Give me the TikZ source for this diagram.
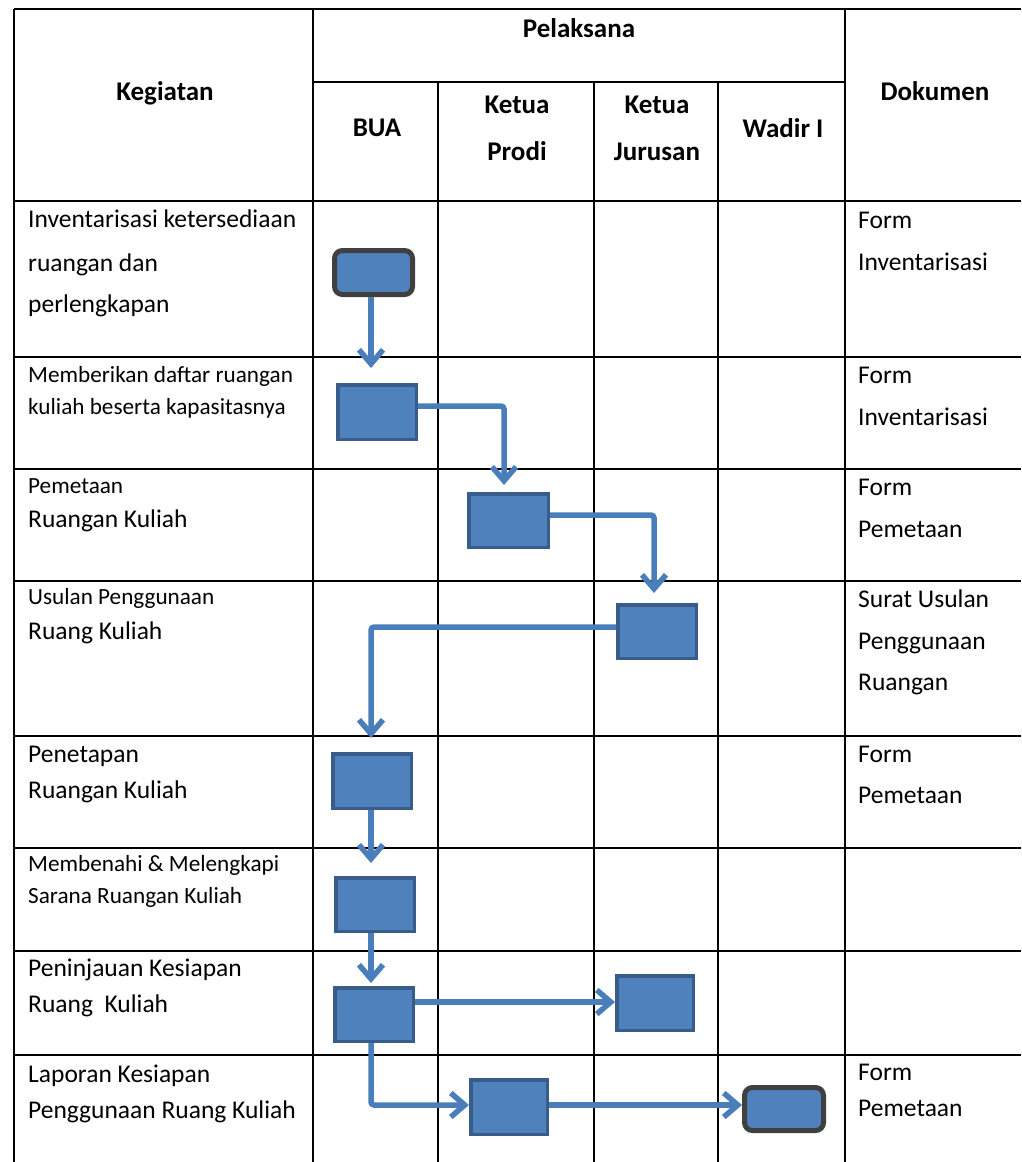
\documentclass[tikz,border=0pt]{standalone}
\usepackage{fontspec}
\setmainfont{Carlito}
\usetikzlibrary{arrows.meta,shadows}
\definecolor{boxfill}{HTML}{4F81BD}
\definecolor{boxedge}{HTML}{385D8A}
\definecolor{termedge}{HTML}{404040}
\definecolor{arrowc}{HTML}{4A7EBB}
\tikzset{
  flowbox/.style={draw=boxedge, fill=boxfill, line width=3.5pt, inner sep=0pt,
    drop shadow={opacity=0.25, shadow xshift=2pt, shadow yshift=-2pt}},
  termbox/.style={draw=termedge, fill=boxfill, line width=5pt, inner sep=0pt, rounded corners=8pt,
    drop shadow={opacity=0.25, shadow xshift=2pt, shadow yshift=-2pt}},
  flowarrow/.style={draw=arrowc, line width=5.5pt, rounded corners=3pt,
    -{Straight Barb[length=14pt,width=24pt]}},
  gridline/.style={line width=2.2pt, black},
  big/.style={font=\fontsize{25.5}{30}\selectfont, anchor=base west, inner sep=0pt},
  small/.style={font=\fontsize{23.2}{27}\selectfont, anchor=base west, inner sep=0pt},
  head/.style={font=\bfseries\fontsize{27}{32}\selectfont, anchor=base, inner sep=0pt}
}
\begin{document}
\begin{tikzpicture}[x=1pt,y=-1pt]
\useasboundingbox[fill=white] (0,0) rectangle (1021,1162);
% grid
\draw[gridline] (14,9) -- (1021,9);
\draw[gridline] (313,82) -- (845,82);
\foreach \yy in {201,357,469,581,736,848,951,1055}{\draw[gridline] (14,\yy) -- (1021,\yy);}
\foreach \xx in {14,313,845}{\draw[gridline] (\xx,9) -- (\xx,1162);}
\foreach \xx in {438,594,718}{\draw[gridline] (\xx,82) -- (\xx,1162);}
% header
\node[head] (hkeg) at (165,100) {Kegiatan};
\node[head] (hpel) at (579,37) {Pelaksana};
\node[head] (hdok) at (935,100) {Dokumen};
\node[head] (hbua) at (377,136) {BUA};
\node[head] (hkp1) at (517,113) {Ketua};
\node[head] (hkp2) at (517,160) {Prodi};
\node[head] (hkj1) at (657,113) {Ketua};
\node[head] (hkj2) at (657,160) {Jurusan};
\node[head] (hwad) at (783,137) {Wadir I};
% kegiatan
\node[big] (k1a) at (28,227) {Inventarisasi ketersediaan};
\node[big] (k1b) at (28,271) {ruangan dan};
\node[big] (k1c) at (28,312) {perlengkapan};
\node[small] (k2a) at (28,382) {Memberikan daftar ruangan};
\node[small] (k2b) at (28,414) {kuliah beserta kapasitasnya};
\node[small] (k3a) at (28,493) {Pemetaan};
\node[big] (k3b) at (28,527) {Ruangan Kuliah};
\node[small] (k4a) at (28,604) {Usulan Penggunaan};
\node[big] (k4b) at (28,639) {Ruang Kuliah};
\node[big] (k5a) at (28,762) {Penetapan};
\node[big] (k5b) at (28,798) {Ruangan Kuliah};
\node[small] (k6a) at (28,871) {Membenahi \& Melengkapi};
\node[small] (k6b) at (28,903) {Sarana Ruangan Kuliah};
\node[big] (k7a) at (28,976) {Peninjauan Kesiapan};
\node[big] (k7b) at (28,1012) {Ruang\ \ Kuliah};
\node[big] (k8a) at (28,1082) {Laporan Kesiapan};
\node[big] (k8b) at (28,1118) {Penggunaan Ruang Kuliah};
% dokumen
\node[big] (d1a) at (858,228) {Form};
\node[big] (d1b) at (858,270) {Inventarisasi};
\node[big] (d2a) at (858,383) {Form};
\node[big] (d2b) at (858,425) {Inventarisasi};
\node[big] (d3a) at (858,495) {Form};
\node[big] (d3b) at (858,537) {Pemetaan};
\node[big] (d4a) at (858,607) {Surat Usulan};
\node[big] (d4b) at (858,649) {Penggunaan};
\node[big] (d4c) at (858,690) {Ruangan};
\node[big] (d5a) at (858,762) {Form};
\node[big] (d5b) at (858,803) {Pemetaan};
\node[big] (d8a) at (858,1080) {Form};
\node[big] (d8b) at (858,1116) {Pemetaan};
% boxes
\node[termbox, minimum width=78pt, minimum height=44pt] (b1) at (373.5,272.5) {};
\node[flowbox, minimum width=78.5pt, minimum height=54.5pt] (b2) at (377,412) {};
\node[flowbox, minimum width=79.5pt, minimum height=53.5pt] (b3) at (508.5,520.5) {};
\node[flowbox, minimum width=78.5pt, minimum height=53.5pt] (b4) at (657,631.5) {};
\node[flowbox, minimum width=78.5pt, minimum height=54.5pt] (b5) at (372,781) {};
\node[flowbox, minimum width=78.5pt, minimum height=53.5pt] (b6) at (375,904.5) {};
\node[flowbox, minimum width=78.5pt, minimum height=53.5pt] (b7) at (374,1014.5) {};
\node[flowbox, minimum width=76.5pt, minimum height=54.5pt] (b8) at (655,1003) {};
\node[flowbox, minimum width=76.5pt, minimum height=54.5pt] (b9) at (509,1107) {};
\node[termbox, minimum width=79pt, minimum height=43pt] (b10) at (784,1109) {};
% arrows
\coordinate (cx) at (371,0);
\draw[flowarrow, shorten >=15pt] (b1.south -| cx) -- (b2.north -| cx);
\draw[flowarrow, shorten >=7pt] ([yshift=6pt]b2.east) -| ([xshift=-4.5pt]b3.north);
\draw[flowarrow, shorten >=10pt] ([yshift=5.5pt]b3.east) -| ([xshift=-3pt]b4.north);
\draw[flowarrow, shorten >=14pt] ([yshift=4.5pt]b4.west) -| (b5.north -| cx);
\draw[flowarrow, shorten >=13pt] (b5.south -| cx) -- (b6.north -| cx);
\draw[flowarrow, shorten >=3pt] (b6.south -| cx) -- (b7.north -| cx);
\draw[flowarrow] ([yshift=12.5pt]b7.east) -- ([yshift=12.5pt]b7.east -| b8.west);
\draw[flowarrow] (b7.south -| cx) |- ([yshift=2pt]b9.west);
\draw[flowarrow] ([yshift=2pt]b9.east) -- ([yshift=2pt]b9.east -| b10.west);
\end{tikzpicture}
\end{document}
